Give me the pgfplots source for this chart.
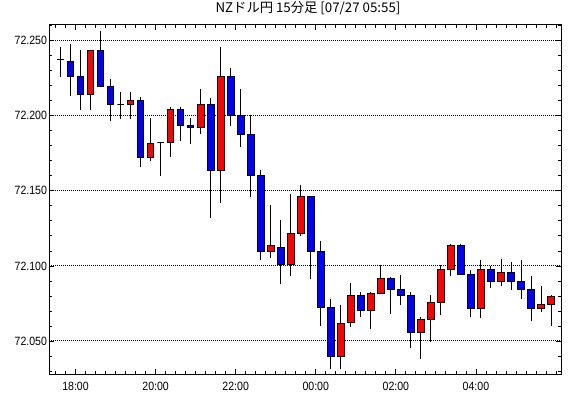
\documentclass[border=0pt]{standalone}
\usepackage{fontspec}
\setmainfont{Liberation Sans}[FakeStretch=0.88]
\newfontfamily\jp{Noto Sans CJK JP}
\usepackage{pgfplots}
\pgfplotsset{compat=1.18}
\definecolor{upred}{RGB}{255,0,0}
\definecolor{downblue}{RGB}{0,0,255}
\pgfplotsset{candle/.style={draw=black, line width=0.9pt}}
% \candle{x}{open}{high}{low}{close}
\newcommand\candle[5]{%
  \ifdim#5pt>#2pt \def\cfill{upred}\def\blo{#2}\def\bhi{#5}%
  \else\ifdim#5pt<#2pt \def\cfill{downblue}\def\blo{#5}\def\bhi{#2}%
  \else\def\cfill{black}\def\blo{#2}\def\bhi{#2}\fi\fi
  \pgfmathsetmacro\xl{#1-0.33}\pgfmathsetmacro\xr{#1+0.33}%
  \edef\tmp{%
    \noexpand\addplot[candle, forget plot] coordinates {(#1,#4) (#1,#3)};
    \noexpand\addplot[candle, fill=\cfill, forget plot] coordinates {(\xl,\blo) (\xr,\blo) (\xr,\bhi) (\xl,\bhi)} -- cycle;}%
  \tmp}
\begin{document}
\begin{tikzpicture}
\begin{axis}[name=main, scale only axis, width=512pt, height=349.6pt,
  xmin=-0.65, xmax=50.5, ymin=72.0278, ymax=72.2607,
  xtick={2,10,18,26,34,42},
  xticklabels={18:00,20:00,22:00,00:00,02:00,04:00},
  minor xtick={0,1,...,50},
  ytick={72.05,72.10,72.15,72.20,72.25},
  minor ytick={72.03,72.04,72.06,72.07,72.08,72.09,72.11,72.12,72.13,72.14,72.16,72.17,72.18,72.19,72.21,72.22,72.23,72.24,72.26},
  tick align=inside, major tick length=5pt, minor tick length=3pt,
  tick style={black, line width=0.8pt},
  axis line style={black, line width=1pt},
  ymajorgrids, major grid style={black, line width=1pt, dash pattern=on 1pt off 1pt},
  /pgf/number format/assume math mode=true,
  y tick label style={xshift=1.5pt, /pgf/number format/fixed, /pgf/number format/fixed zerofill, /pgf/number format/precision=3, /pgf/number format/1000 sep={}},
  ticklabel style={font=\fontsize{12}{12}\selectfont},
  x tick label style={yshift=-4pt},
  title={NZドル円 15分足 [07/27 05:55]},
  title style={font=\jp\fontsize{13.3}{15}\selectfont, at={(0.5,1)}, anchor=south, yshift=0pt, xshift=3pt},
]
\candle{0.5}{72.2378}{72.2458}{72.2260}{72.2378}
\candle{1.5}{72.2363}{72.2478}{72.2133}{72.2260}
\candle{2.5}{72.2263}{72.2438}{72.2040}{72.2145}
\candle{3.5}{72.2145}{72.2433}{72.2040}{72.2433}
\candle{4.5}{72.2433}{72.2563}{72.2196}{72.2196}
\candle{5.5}{72.2196}{72.2243}{72.1963}{72.2076}
\candle{6.5}{72.2076}{72.2158}{72.1980}{72.2076}
\candle{7.5}{72.2076}{72.2158}{72.1976}{72.2105}
\candle{8.5}{72.2105}{72.2123}{72.1656}{72.1723}
\candle{9.5}{72.1723}{72.1983}{72.1700}{72.1816}
\candle{10.5}{72.1820}{72.1820}{72.1600}{72.1820}
\candle{11.5}{72.1823}{72.2056}{72.1723}{72.2045}
\candle{12.5}{72.2043}{72.2056}{72.1833}{72.1936}
\candle{13.5}{72.1936}{72.1983}{72.1813}{72.1923}
\candle{14.5}{72.1923}{72.2178}{72.1880}{72.2076}
\candle{15.5}{72.2076}{72.2116}{72.1320}{72.1636}
\candle{16.5}{72.1636}{72.2458}{72.1420}{72.2263}
\candle{17.5}{72.2263}{72.2316}{72.1931}{72.2003}
\candle{18.5}{72.2003}{72.2178}{72.1793}{72.1876}
\candle{19.5}{72.1876}{72.2003}{72.1460}{72.1603}
\candle{20.5}{72.1603}{72.1636}{72.1038}{72.1098}
\candle{21.5}{72.1098}{72.1405}{72.1056}{72.1136}
\candle{22.5}{72.1123}{72.1305}{72.0878}{72.1013}
\candle{23.5}{72.1013}{72.1478}{72.0933}{72.1216}
\candle{24.5}{72.1216}{72.1538}{72.1198}{72.1463}
\candle{25.5}{72.1463}{72.1463}{72.0913}{72.1096}
\candle{26.5}{72.1096}{72.1165}{72.0600}{72.0723}
\candle{27.5}{72.0723}{72.0778}{72.0313}{72.0396}
\candle{28.5}{72.0396}{72.0738}{72.0313}{72.0620}
\candle{29.5}{72.0623}{72.0885}{72.0593}{72.0803}
\candle{30.5}{72.0803}{72.0825}{72.0660}{72.0703}
\candle{31.5}{72.0703}{72.0825}{72.0580}{72.0816}
\candle{32.5}{72.0816}{72.1003}{72.0816}{72.0916}
\candle{33.5}{72.0916}{72.0923}{72.0680}{72.0843}
\candle{34.5}{72.0843}{72.0938}{72.0740}{72.0803}
\candle{35.5}{72.0803}{72.0823}{72.0453}{72.0556}
\candle{36.5}{72.0556}{72.0660}{72.0380}{72.0643}
\candle{37.5}{72.0643}{72.0803}{72.0496}{72.0756}
\candle{38.5}{72.0756}{72.1003}{72.0673}{72.0976}
\candle{39.5}{72.0976}{72.1145}{72.0933}{72.1136}
\candle{40.5}{72.1136}{72.1145}{72.0943}{72.0943}
\candle{41.5}{72.0943}{72.0976}{72.0660}{72.0716}
\candle{42.5}{72.0716}{72.1038}{72.0653}{72.0976}
\candle{43.5}{72.0976}{72.1000}{72.0853}{72.0896}
\candle{44.5}{72.0896}{72.1043}{72.0863}{72.0956}
\candle{45.5}{72.0956}{72.1023}{72.0840}{72.0896}
\candle{46.5}{72.0896}{72.1038}{72.0780}{72.0843}
\candle{47.5}{72.0843}{72.0936}{72.0633}{72.0716}
\candle{48.5}{72.0716}{72.0863}{72.0693}{72.0743}
\candle{49.5}{72.0743}{72.0803}{72.0600}{72.0796}
\end{axis}
\pgfresetboundingbox
\path[use as bounding box] ([xshift=-49pt,yshift=-23.7pt]main.south west) rectangle ++(570pt,398pt);
\end{tikzpicture}
\end{document}
